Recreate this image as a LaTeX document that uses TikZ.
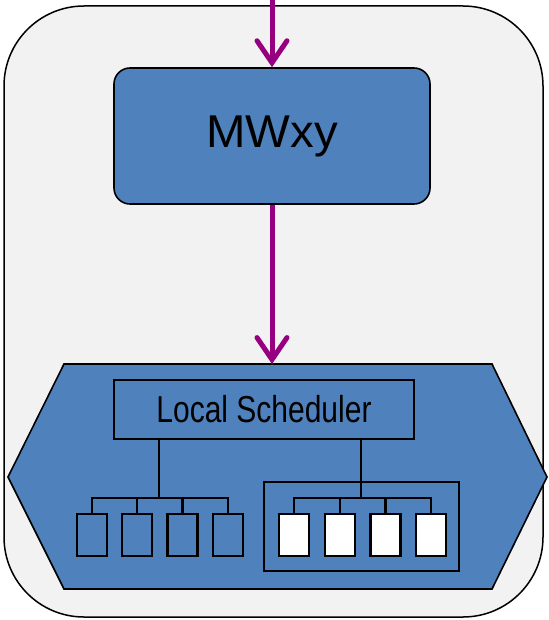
\documentclass[tikz,border=0pt]{standalone}
\usepackage{fontspec}
\setmainfont{Liberation Sans}
\usetikzlibrary{arrows.meta}
\definecolor{boxblue}{RGB}{79,129,189}
\definecolor{bggray}{RGB}{242,242,242}
\definecolor{arrowpurple}{RGB}{150,0,128}
\begin{document}
\begin{tikzpicture}[x=1pt,y=-1pt,
  outerbox/.style={draw=black, fill=bggray, line width=1.5pt, rounded corners=80pt, inner sep=0pt},
  bluebox/.style={draw=black, fill=boxblue, line width=1.6pt, inner sep=0pt},
  smallbox/.style={draw=black, line width=2.2pt, inner sep=0pt, minimum width=30pt, minimum height=42pt},
  wire/.style={draw=black, line width=2.2pt},
  flowarrow/.style={draw=arrowpurple, line width=5pt, -{Straight Barb[length=22pt,width=30pt,line cap=round,line join=miter]}}]
\useasboundingbox (0,0) rectangle (548,620);
% outer frame
\node[outerbox, minimum width=539pt, minimum height=611pt] (outer) at (273.5,311.5) {};
% MWxy box
\node[bluebox, rounded corners=16pt, minimum width=316pt, minimum height=136pt,
      font=\fontsize{46}{56}\selectfont] (mw) at (272,136) {\raisebox{-3pt}{\scalebox{1.03}[1]{MWxy}}};
% hexagon
\path[draw=black, fill=boxblue, line width=1.6pt]
  (64,364) -- (492,364) -- (547,477) -- (492,589) -- (64,589) -- (8,477) -- cycle;
\coordinate (hextop) at (272,364);
% local scheduler
\node[bluebox, line width=2pt, minimum width=300pt, minimum height=59pt,
      font=\fontsize{30}{36}\selectfont] (sched) at (264,409.5) {\raisebox{-1pt}{\scalebox{1.0}[1.25]{Local Scheduler}}};
% container
\node[draw=black, line width=2.2pt, minimum width=195pt, minimum height=89pt, inner sep=0pt] (cont) at (361.5,526.5) {};
% left boxes
\node[smallbox, fill=boxblue] (l1) at (92,535) {};
\node[smallbox, fill=boxblue] (l2) at (137,535) {};
\node[smallbox, fill=boxblue] (l3) at (182.5,535) {};
\node[smallbox, fill=boxblue] (l4) at (228,535) {};
% right boxes
\node[smallbox, fill=white] (r1) at (294,535) {};
\node[smallbox, fill=white] (r2) at (340,535) {};
\node[smallbox, fill=white] (r3) at (385.5,535) {};
\node[smallbox, fill=white] (r4) at (431,535) {};
% buses
\coordinate (lbus) at (159,498);
\coordinate (rbus) at (361,498);
\draw[wire] (sched.south -| lbus) -- (lbus);
\draw[wire] (l1.north) |- (lbus) -| (l4.north);
\draw[wire] (l2.north) -- (l2.north |- lbus);
\draw[wire] (l3.north) -- (l3.north |- lbus);
\draw[wire] (sched.south -| rbus) -- (rbus);
\draw[wire] (r1.north) |- (rbus) -| (r4.north);
\draw[wire] (r2.north) -- (r2.north |- rbus);
\draw[wire] (r3.north) -- (r3.north |- rbus);
% arrows
\coordinate (topin) at (272,0);
\draw[flowarrow] (topin) -- (mw.north);
\draw[flowarrow] (mw.south) -- (hextop);
\end{tikzpicture}
\end{document}
